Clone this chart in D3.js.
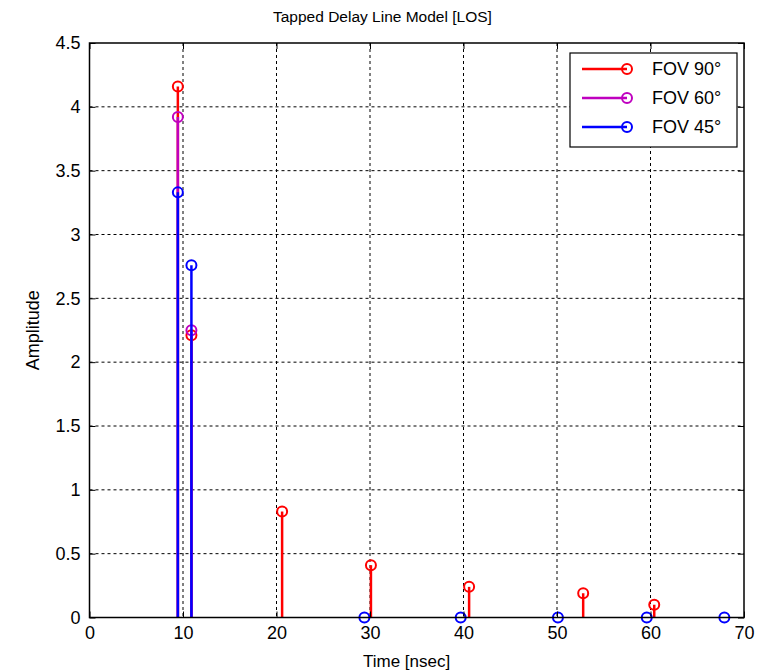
<!DOCTYPE html>
<html lang="en">
  <head>
    <meta charset="UTF-8" />
    <title>Tapped Delay Line Model [LOS]</title>
    <script src="https://d3js.org/d3.v7.min.js"></script>
    <style>
      body { margin: 0; background: #fff; }
      text { font-family: Arial, "Liberation Sans", sans-serif; }
    </style>
  </head>

  <body>
    <svg width="758" height="672"></svg>

    <script>
      // stem data
      const fov90Time = [9.45, 10.9, 20.6, 30.1, 40.6, 52.8, 60.4];
      const fov90Amp = [4.16, 2.21, 0.83, 0.41, 0.24, 0.19, 0.1];
      const fov60Time = [9.45, 10.9];
      const fov60Amp = [3.92, 2.25];
      const fov45Time = [9.45, 10.9, 29.4, 39.7, 50.1, 59.6, 67.9];
      const fov45Amp = [3.33, 2.76, 0, 0, 0, 0, 0];

      const seriesNames = ["FOV 90°", "FOV 60°", "FOV 45°"];
      const seriesColors = ["#ff0000", "#bf00bf", "#0000ff"];
      const xTicks = [0, 10, 20, 30, 40, 50, 60, 70];
      const yTicks = [0, 0.5, 1, 1.5, 2, 2.5, 3, 3.5, 4, 4.5];

      let svg = d3.select("svg");
      const mLeft = 89.5, mRight = 744, mTop = 43, mBottom = 617.5;

      const x = d3.scaleLinear().domain([0, 70]).range([mLeft, mRight]);
      const y = d3.scaleLinear().domain([0, 4.5]).range([mBottom, mTop]);

      // grid
      let grid = svg.append("g");
      grid.selectAll(".gx")
        .data(xTicks.slice(1, -1))
        .enter()
        .append("line")
        .attr("x1", d => x(d)).attr("x2", d => x(d))
        .attr("y1", mTop).attr("y2", mBottom)
        .attr("stroke", "#000").attr("stroke-width", 1)
        .attr("stroke-dasharray", "3,3");
      grid.selectAll(".gy")
        .data(yTicks.slice(1, -1))
        .enter()
        .append("line")
        .attr("x1", mLeft).attr("x2", mRight)
        .attr("y1", d => y(d)).attr("y2", d => y(d))
        .attr("stroke", "#000").attr("stroke-width", 1)
        .attr("stroke-dasharray", "3,3");

      // stems
      const series = [
        { t: fov90Time, a: fov90Amp },
        { t: fov60Time, a: fov60Amp },
        { t: fov45Time, a: fov45Amp },
      ];
      series.forEach(function (s, i) {
        let pts = s.t.map((t, j) => ({ t: t, a: s.a[j] }));
        let g = svg.append("g");
        g.selectAll("line")
          .data(pts)
          .enter()
          .append("line")
          .attr("x1", d => x(d.t)).attr("x2", d => x(d.t))
          .attr("y1", y(0)).attr("y2", d => y(d.a))
          .attr("stroke", seriesColors[i])
          .attr("stroke-width", 2.5);
        g.selectAll("circle")
          .data(pts)
          .enter()
          .append("circle")
          .attr("cx", d => x(d.t))
          .attr("cy", d => y(d.a))
          .attr("r", 5)
          .attr("fill", "none")
          .attr("stroke", seriesColors[i])
          .attr("stroke-width", 2);
      });

      // axes
      const xAxis = d3.axisBottom(x).tickValues(xTicks).tickSize(-6).tickPadding(9).tickFormat(d3.format("d"));
      const yAxis = d3.axisLeft(y).tickValues(yTicks).tickSize(-6).tickPadding(9).tickFormat(d => d);
      let gx = svg.append("g").attr("transform", `translate(0,${mBottom})`).call(xAxis);
      let gy = svg.append("g").attr("transform", `translate(${mLeft},0)`).call(yAxis);
      let gx2 = svg.append("g").attr("transform", `translate(0,${mTop})`).call(d3.axisTop(x).tickValues(xTicks).tickSize(-6).tickFormat(""));
      let gy2 = svg.append("g").attr("transform", `translate(${mRight},0)`).call(d3.axisRight(y).tickValues(yTicks).tickSize(-6).tickFormat(""));
      [gx, gy, gx2, gy2].forEach(function (g) {
        g.select(".domain").remove();
        g.selectAll("line").attr("stroke", "#000");
        g.selectAll("text").attr("font-size", 18).attr("fill", "#000")
          .style("font-family", "Arial, 'Liberation Sans', sans-serif");
      });

      svg.append("rect")
        .attr("x", mLeft).attr("y", mTop)
        .attr("width", mRight - mLeft).attr("height", mBottom - mTop)
        .attr("fill", "none").attr("stroke", "#000").attr("stroke-width", 1.5);

      // labels
      svg.append("text")
        .attr("x", 273).attr("y", 22)
        .attr("font-size", 15.5)
        .text("Tapped Delay Line Model [LOS]");
      svg.append("text")
        .attr("x", 363).attr("y", 667)
        .attr("font-size", 17)
        .text("Time [nsec]");
      svg.append("text")
        .attr("transform", `translate(39,${(mTop + mBottom) / 2}) rotate(-90)`)
        .attr("text-anchor", "middle").attr("font-size", 18)
        .text("Amplitude");

      // legend
      let lg = svg.append("g");
      lg.append("rect")
        .attr("x", 570).attr("y", 53).attr("width", 167).attr("height", 94)
        .attr("fill", "#fff").attr("stroke", "#000").attr("stroke-width", 1.2);
      seriesNames.forEach(function (name, i) {
        const yy = 69 + i * 29;
        lg.append("line")
          .attr("x1", 582).attr("x2", 627).attr("y1", yy).attr("y2", yy)
          .attr("stroke", seriesColors[i]).attr("stroke-width", 2.5);
        lg.append("circle")
          .attr("cx", 627).attr("cy", yy).attr("r", 5)
          .attr("fill", "none").attr("stroke", seriesColors[i]).attr("stroke-width", 2);
        lg.append("text")
          .attr("x", 652).attr("y", yy + 6).attr("font-size", 18)
          .text(name);
      });
    </script>
  </body>
</html>
